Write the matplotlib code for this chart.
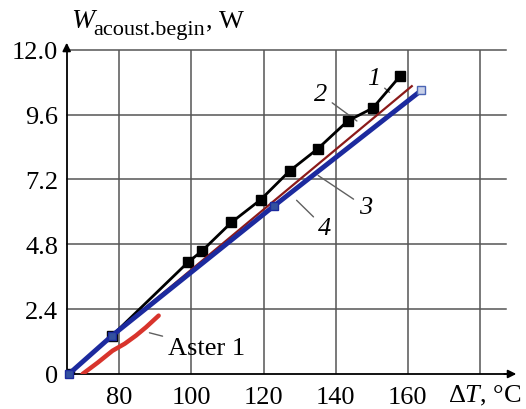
import matplotlib
matplotlib.use("Agg")
import matplotlib.pyplot as plt

plt.rcParams['font.family'] = ['Liberation Serif', 'DejaVu Serif']
plt.rcParams['mathtext.fontset'] = 'custom'
plt.rcParams['mathtext.rm'] = 'Liberation Serif'
plt.rcParams['mathtext.it'] = 'Liberation Serif:italic'

# Data
x_ticks = [80, 100, 120, 140, 160]
y_ticks = [0, 2.4, 4.8, 7.2, 9.6, 12.0]
y_tick_labels = ["0", "2.4", "4.8", "7.2", "9.6", "12.0"]

curve1_x = [66.0, 78.0, 99.0, 102.9, 111.1, 119.2, 127.2, 135.0, 143.3, 150.3, 157.9]
curve1_y = [0.0, 1.42, 4.13, 4.55, 5.61, 6.45, 7.51, 8.33, 9.36, 9.84, 11.03]

curve2_x = [66.0, 78.0, 161.1]
curve2_y = [0.0, 1.42, 10.65]

curve4_x = [66.0, 78.0, 123.0, 163.7]
curve4_y = [0.0, 1.42, 6.23, 10.49]

aster_x = [69.8, 74.0, 78.1, 81.5, 84.6, 87.4, 90.9]
aster_y = [0.0, 0.42, 0.86, 1.12, 1.42, 1.73, 2.16]

fig = plt.figure(figsize=(5.26, 4.10), dpi=100)
ax = fig.add_axes([0.1268, 0.0854, 0.835, 0.791])

ax.set_xlim(65.4, 187.2)
ax.set_ylim(0, 12.0)

for xv in x_ticks + [180]:
    ax.axvline(xv, color='#555555', lw=1.1, zorder=1)
for yv in y_ticks[1:]:
    ax.axhline(yv, color='#555555', lw=1.1, zorder=1, clip_on=False)

ax.plot(aster_x, aster_y, color='#d8342c', lw=3.2, zorder=3, solid_capstyle='round')
ax.plot(curve1_x, curve1_y, color='black', lw=2.0, marker='s', markersize=7, zorder=4)
ax.plot(curve2_x, curve2_y, color='#8b1a1a', lw=1.6, zorder=4)
ax.plot(curve4_x, curve4_y, color='#1c2a9e', lw=3.5, zorder=5)
ax.plot(curve4_x[:-1], curve4_y[:-1], ls='none', marker='s', markersize=6,
        markerfacecolor='#33519f', markeredgecolor='#1c2a9e', markeredgewidth=1.0,
        zorder=6, clip_on=False)
ax.plot(curve4_x[-1:], curve4_y[-1:], ls='none', marker='s', markersize=6,
        markerfacecolor='#c8d0e8', markeredgecolor='#4a64b4', markeredgewidth=1.0,
        zorder=6, clip_on=False)

for s in ['top', 'right']:
    ax.spines[s].set_visible(False)
for s in ['left', 'bottom']:
    ax.spines[s].set_linewidth(1.3)

ax.annotate('', xy=(1.03, 0), xytext=(0.99, 0), xycoords='axes fraction',
            arrowprops=dict(arrowstyle='-|>', color='black', lw=1.3, mutation_scale=12))
ax.annotate('', xy=(0, 1.03), xytext=(0, 0.99), xycoords='axes fraction',
            arrowprops=dict(arrowstyle='-|>', color='black', lw=1.3, mutation_scale=12))

ax.set_xticks(x_ticks)
ax.set_xticklabels([str(v) for v in x_ticks])
ax.set_yticks(y_ticks)
ax.set_yticklabels(y_tick_labels)
ax.tick_params(length=0, labelsize=19, pad=6)
ax.tick_params(axis='x', pad=9)

# y-axis title built from pieces
fig.text(71.5 / 526, 1 - 27.5 / 410, 'W', fontsize=20, style='italic', ha='left', va='baseline')
fig.text(93 / 526, 1 - 35 / 410, 'acoust.begin', fontsize=16, ha='left', va='baseline')
fig.text(206 / 526, 1 - 27.5 / 410, ',', fontsize=19, ha='left', va='baseline')
fig.text(219 / 526, 1 - 27.5 / 410, 'W', fontsize=19, ha='left', va='baseline')

fig.text(0.852, 0.035, r'$\Delta T$, °C', fontsize=19, ha='left', va='center')

lead = dict(arrowstyle='-', color='#606060', lw=1.0)
ax.annotate('Aster 1', xy=(87.6, 1.55), xytext=(93.5, 0.98), fontsize=19,
            ha='left', va='center', arrowprops=lead)
ax.annotate('1', xy=(155.5, 10.35), xytext=(150.4, 10.95), fontsize=19, style='italic',
            ha='center', va='center', arrowprops=lead)
ax.annotate('2', xy=(146.5, 9.3), xytext=(135.8, 10.35), fontsize=19, style='italic',
            ha='center', va='center', arrowprops=lead)
ax.annotate('3', xy=(134.5, 7.4), xytext=(148.2, 6.18), fontsize=19, style='italic',
            ha='center', va='center', arrowprops=lead)
ax.annotate('4', xy=(128.6, 6.5), xytext=(137.0, 5.4), fontsize=19, style='italic',
            ha='center', va='center', arrowprops=lead)

fig.savefig('out.png', dpi=100)
